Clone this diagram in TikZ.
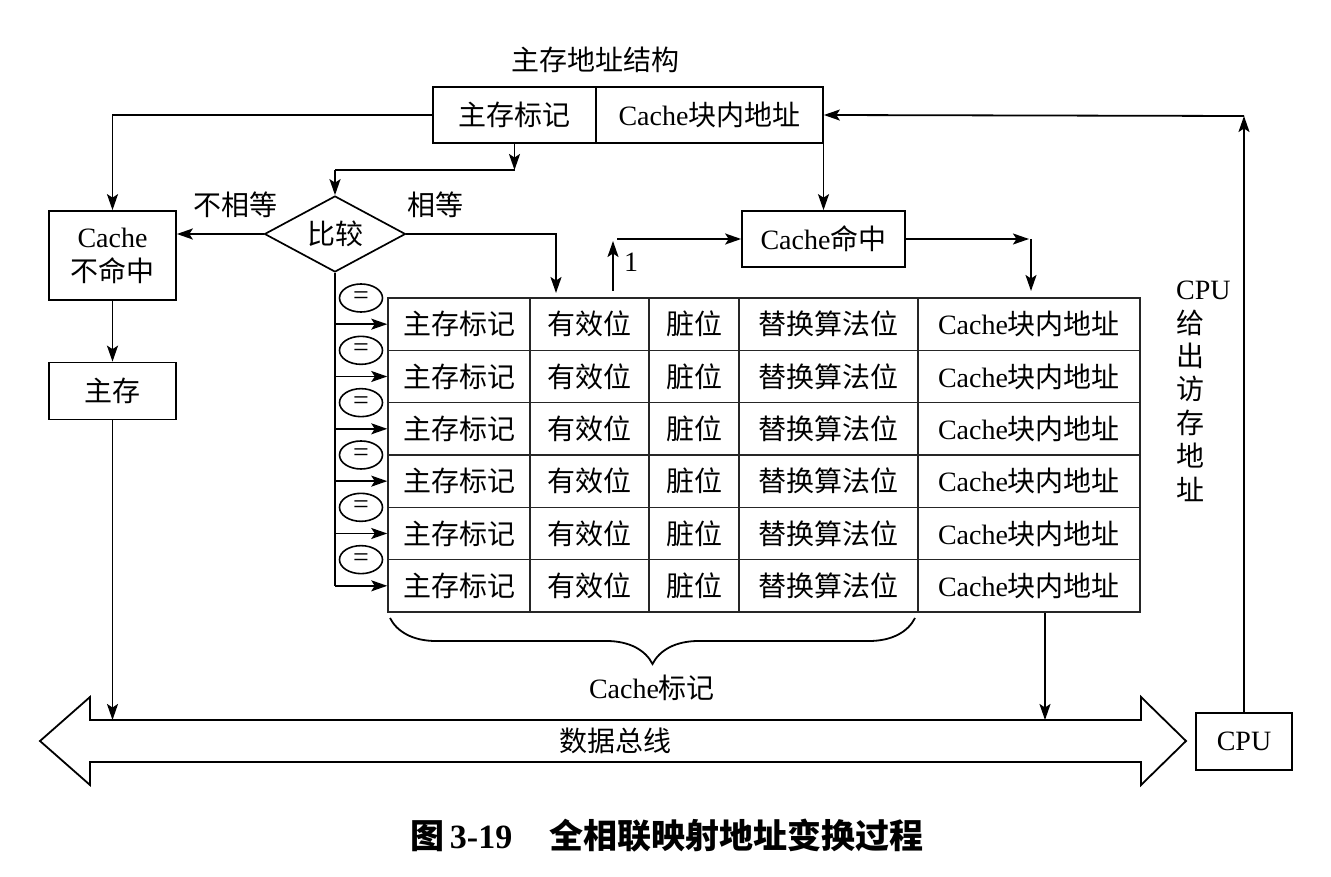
\documentclass[tikz,border=0pt]{standalone}
\usepackage{fontspec}
\setmainfont{Liberation Serif}
\newfontfamily\cjk{Noto Sans CJK SC}
\usetikzlibrary{arrows.meta,shapes.geometric,decorations.pathreplacing}
\newcommand\zh[1]{{\cjk #1}}
\begin{document}
\begin{tikzpicture}[x=1pt,y=-1pt,
  ln/.style={line width=1.8pt},
  arr/.style={ln,-{Stealth[length=16pt,width=11pt,inset=3.5pt]}},
  txt/.style={font=\fontsize{28pt}{34pt}\selectfont, inner sep=0pt},
  box/.style={draw, line width=1.7pt, inner sep=0pt, txt},
  cell/.style={draw=black!85, line width=1.5pt, inner sep=0pt, minimum height=52.33pt, txt},
  eqell/.style={ellipse, draw, line width=1.6pt, inner sep=0pt, minimum width=43pt, minimum height=28pt, font=\fontsize{28pt}{30pt}\selectfont}]
\useasboundingbox (0,0) rectangle (1331,877);

% address structure
\node[txt] (title) at (595,60) {\zh{主存地址结构}};
\node[box, minimum width=163pt, minimum height=56pt] (atag) at (514.5,115) {\zh{主存标记}};
\node[box, minimum width=227pt, minimum height=56pt] (aoff) at (709.5,115) {Cache\zh{块内地址}};

% left boxes
\node[box, minimum width=127pt, minimum height=89pt, align=center] (miss) at (112.5,255.5) {Cache\\\zh{不命中}};
\node[box, minimum width=127pt, minimum height=57pt] (mem) at (112.5,391) {\zh{主存}};

% compare
\node[diamond, draw, line width=1.7pt, aspect=1.85, inner sep=0pt, minimum width=141pt, minimum height=76pt, txt] (cmp) at (335,234) {\zh{比较}};
\node[txt] (ne) at (235,205) {\zh{不相等}};
\node[txt] (eq) at (435,205) {\zh{相等}};

% hit
\node[box, minimum width=163pt, minimum height=56pt] (hit) at (823.5,239) {Cache\zh{命中}};

% CPU
\node[box, minimum width=96pt, minimum height=57pt] (cpu) at (1244,741.5) {CPU};
\node[txt, align=left, anchor=north west, font=\fontsize{28pt}{33.4pt}\selectfont] (cpulbl) at (1176,281) {CPU\\\zh{给}\\\zh{出}\\\zh{访}\\\zh{存}\\\zh{地}\\\zh{址}};

% table
\foreach \r in {1,...,6} {
  \pgfmathsetmacro\yc{298+(\r-0.5)*52.33}
  \pgfmathsetmacro\yt{298+(\r-1)*52.33}
  \node[cell, minimum width=142pt] (r\r c1) at (459,\yc) {\zh{主存标记}};
  \node[cell, minimum width=119pt] (r\r c2) at (589.5,\yc) {\zh{有效位}};
  \node[cell, minimum width=90pt] (r\r c3) at (694,\yc) {\zh{脏位}};
  \node[cell, minimum width=179pt] (r\r c4) at (828.5,\yc) {\zh{替换算法位}};
  \node[cell, minimum width=222pt] (r\r c5) at (1029,\yc) {Cache\zh{块内地址}};
  \node[eqell] (e\r) at (361,\yt) {=};
}

% bus
\coordinate (bustop) at (0,720);
\draw[ln] (40,741) -- (90,697) -- (90,720) -- (1141,720) -- (1141,697) -- (1186,741)
  -- (1141,785) -- (1141,762) -- (90,762) -- (90,785) -- cycle;
\node[txt] (bus) at (615,741) {\zh{数据总线}};

% brace
\draw[ln, decorate, decoration={brace, mirror, amplitude=46pt}] (390,618) -- (915,618);
\node[txt] (ctag) at (652,688) {Cache\zh{标记}};

% connectors
\coordinate (k1) at (514.5,170);
\draw[arr] (atag.west) -| (miss.north);
\draw[arr] (atag.south) -- (k1);
\draw[ln] (k1) -- (k1 -| cmp.north);
\draw[arr] (k1 -| cmp.north) -- (cmp.north);
\draw[arr] (cmp.west) -- (cmp.west -| miss.east);
\draw[arr] (miss.south) -- (mem.north);
\draw[arr] (mem.south) -- (mem.south |- bustop);
\coordinate (eqend) at (556,293);
\draw[arr] (cmp.east) -| (eqend);
\draw[ln] (cmp.south) -- (cmp.south |- r6c1.west);
\foreach \r in {1,...,6} {
  \draw[arr] (cmp.south |- r\r c1.west) -- (r\r c1.west);
}
\coordinate (v1s) at (613,291);
\coordinate (v1e) at (613,241);
\draw[arr] (v1s) -- (v1e);
\node[txt] (one) at (631,262) {1};
\coordinate (h1s) at (617,239);
\draw[arr] (h1s) -- (hit.west);
\draw[arr] (hit.north |- aoff.south) -- (hit.north);
\coordinate (hr) at (1029,239);
\draw[arr] (hit.east) -- (hr);
\coordinate (hd1) at (1031,239);
\coordinate (hd2) at (1031,291);
\draw[arr] (hd1) -- (hd2);
\coordinate (tb) at (1045,613);
\draw[arr] (tb) -- (tb |- bustop);
\coordinate (cputop) at (1244,116);
\draw[arr] (cpu.north) -- (cputop);
\draw[arr] (cputop) -- (aoff.east);

% caption
\node[inner sep=0pt, font=\fontsize{34pt}{40pt}\selectfont\bfseries] (cap) at (667,836)
  {\zh{图}\,3-19\hspace{1.1em}\zh{全相联映射地址变换过程}};
\end{tikzpicture}
\end{document}
